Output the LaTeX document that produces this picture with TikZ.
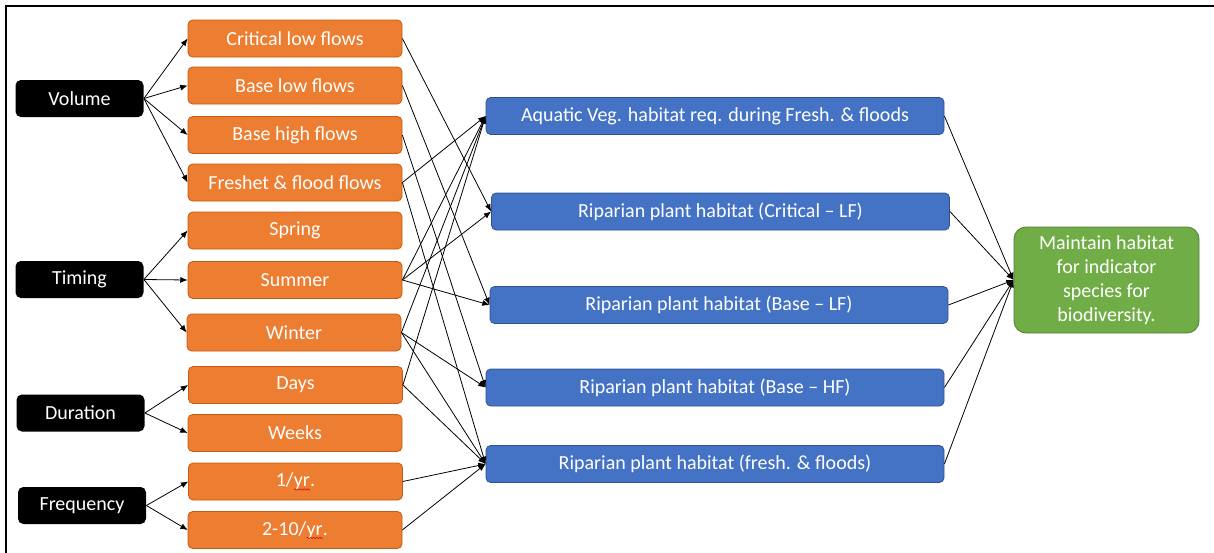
\documentclass[tikz,border=0pt]{standalone}
\usepackage{fontspec}
\setmainfont{Carlito}
\usetikzlibrary{arrows.meta, decorations.pathmorphing}

\definecolor{offorange}{HTML}{ED7D31}
\definecolor{offorangeb}{HTML}{C55A11}
\definecolor{offblue}{HTML}{4472C4}
\definecolor{offblueb}{HTML}{2F528F}
\definecolor{offgreen}{HTML}{70AD47}
\definecolor{offgreenb}{HTML}{507E32}

% red spell-check wave under a word
\newcommand\spellmark[1]{\tikz[baseline=(w.base), sharp corners]{\node[inner sep=0pt, outer sep=0pt, draw=none, fill=none, minimum size=0pt, text=white] (w) {#1};
  \draw[red!85!black, fill=none, sharp corners, line width=0.35pt, decorate, decoration={zigzag, amplitude=0.5pt, segment length=2.4pt}] ([yshift=-2.2pt]w.base west) -- ([yshift=-2.2pt]w.base east);}}

\begin{document}
\begin{tikzpicture}[x=0.75pt, y=-0.75pt, line width=0.6pt, nodes = {align = center, text = white},
    >={Latex[length=5.5pt, width=4.5pt]}]

  \tikzstyle{param}=[fill=black, rounded corners=4pt, minimum height=27.75pt, minimum width=96pt, inner sep=1pt, font=\fontsize{15}{18}\selectfont]
  \tikzstyle{flow}=[draw=offorangeb, fill=offorange, rounded corners=3.5pt, minimum height=27.75pt, minimum width=160.5pt, inner sep=1pt, font=\fontsize{15}{18}\selectfont]
  \tikzstyle{habitat}=[draw=offblueb, fill=offblue, rounded corners=3.5pt, minimum height=27.75pt, minimum width=343.5pt, inner sep=1pt, font=\fontsize{15}{18}\selectfont]
  \tikzstyle{goal}=[draw=offgreenb, fill=offgreen, rounded corners=9pt, minimum height=79.5pt, minimum width=138.75pt, inner sep=1pt, font=\fontsize{15}{18}\selectfont]

  \useasboundingbox (0,0) rectangle (1214,553);
  \draw[line width=1.8pt] (5,6) -- (1214,6);
  \draw[line width=1.8pt] (6,6) -- (6,553);

  % parameters
  \node[param] (vol) at (79.5,98.5) {Volume};
  \node[param] (tim) at (79.5,279.5) {Timing};
  \node[param] (dur) at (80.5,413) {Duration};
  \node[param] (freq) at (82,505.5) {Frequency};

  % flow components
  \node[flow] (clf) at (295,38.5) {Critical low flows};
  \node[flow] (blf) at (295,85.5) {Base low flows};
  \node[flow] (bhf) at (295,135) {Base high flows};
  \node[flow] (ffl) at (295,182.5) {Freshet \& flood flows};
  \node[flow] (spr) at (295,230.5) {Spring};
  \node[flow] (sum) at (295,280) {Summer};
  \node[flow] (win) at (294,332.5) {Winter};
  \node[flow] (days) at (295.5,385) {Days};
  \node[flow] (wks) at (295,433) {Weeks};
  \node[flow] (once) at (295.5,481.5) {1/\spellmark{yr}.};
  \node[flow] (many) at (295,530) {2-10/\spellmark{yr}.};

  % habitats
  \node[habitat] (aqv) at (715,116) {Aquatic Veg. habitat req. during Fresh. \& floods};
  \node[habitat] (rcl) at (720.5,211.5) {Riparian plant habitat (Critical -- LF)};
  \node[habitat] (rbl) at (719,305) {Riparian plant habitat (Base -- LF)};
  \node[habitat] (rbh) at (715,387.5) {Riparian plant habitat (Base -- HF)};
  \node[habitat] (rff) at (715,464) {Riparian plant habitat (fresh. \& floods)};

  \node[goal] (bio) at (1106.5,280) {Maintain habitat\\for indicator\\species for\\biodiversity.};

  % parameters to flows
  \draw[->] (vol.east) -- (clf.west);
  \draw[->] (vol.east) -- (blf.west);
  \draw[->] (vol.east) -- (bhf.west);
  \draw[->] (vol.east) -- (ffl.west);
  \draw[->] (tim.east) -- (spr.west);
  \draw[->] (tim.east) -- (sum.west);
  \draw[->] (tim.east) -- (win.west);
  \draw[->] (dur.east) -- (days.west);
  \draw[->] (dur.east) -- (wks.west);
  \draw[->] (freq.east) -- (once.west);
  \draw[->] (freq.east) -- (many.west);

  % flows to habitats
  \draw[->] (clf.east) -- (rcl.west);
  \draw[->] (blf.east) -- (rbl.west);
  \draw[->] (bhf.east) -- (rbh.west);
  \draw[->] (ffl.east) -- (aqv.west);
  \draw[->] (ffl.east) -- (rff.west);
  \draw[->] (sum.east) -- (aqv.west);
  \draw[->] (sum.east) -- (rcl.west);
  \draw[->] (sum.east) -- (rbl.west);
  \draw[->] (win.east) -- (aqv.west);
  \draw[->] (win.east) -- (rbh.west);
  \draw[->] (win.east) -- (rff.west);
  \draw[->] (days.east) -- (aqv.west);
  \draw[->] (days.east) -- (rff.west);
  \draw[->] (once.east) -- (rff.west);
  \draw[->] (many.east) -- (rff.west);

  % habitats to goal
  \draw[->] (aqv.east) -- (bio.west);
  \draw[->] (rcl.east) -- (bio.west);
  \draw[->] (rbl.east) -- (bio.west);
  \draw[->] (rbh.east) -- (bio.west);
  \draw[->] (rff.east) -- (bio.west);
\end{tikzpicture}
\end{document}
